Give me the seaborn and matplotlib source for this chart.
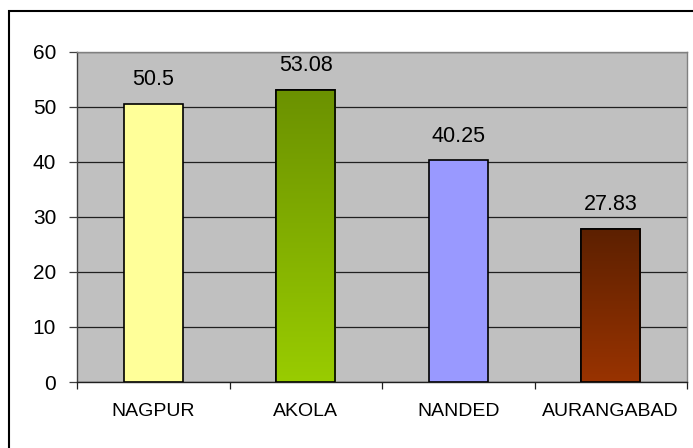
import numpy as np
import pandas as pd
import matplotlib
matplotlib.use("Agg")
import matplotlib.pyplot as plt
import seaborn as sns
from matplotlib.colors import LinearSegmentedColormap
from matplotlib.patches import Rectangle

districts = ["NAGPUR", "AKOLA", "NANDED", "AURANGABAD"]
values = [50.5, 53.08, 40.25, 27.83]
bar_colors = ["#ffff99", "#79a300", "#9999ff", "#7a2a00"]
# top/bottom shades for the bars filled with a vertical gradient
gradients = {1: ("#6b9100", "#99cc00"), 3: ("#5c2000", "#993300")}
y_ticks = [0, 10, 20, 30, 40, 50, 60]

sns.set_theme(style="white")
plt.rcParams["font.family"] = ["Liberation Sans", "DejaVu Sans"]

fig = plt.figure(figsize=(6.93, 4.48), dpi=100)
ax = fig.add_axes([77 / 693, 1 - 382 / 448, 610 / 693, 330.5 / 448])

df = pd.DataFrame({"district": districts, "value": values})
sns.barplot(data=df, x="district", y="value", hue="district", palette=bar_colors,
            saturation=1, legend=False, width=0.39, edgecolor="black",
            linewidth=1.2, ax=ax, zorder=3)

ax.set_facecolor("#c0c0c0")
ax.set_xlim(-0.5, len(districts) - 0.5)
ax.set_ylim(0, 60)
ax.set_yticks(y_ticks)
ax.yaxis.grid(True, color="#202020", linewidth=0.9)
ax.set_axisbelow(True)
ax.set_xlabel("")
ax.set_ylabel("")

for name, sp in ax.spines.items():
    sp.set_visible(True)
    sp.set_color("#808080")
    sp.set_linewidth(1.0)
ax.spines["left"].set_color("#404040")
ax.spines["bottom"].set_color("#202020")

ax.tick_params(axis="y", which="major", left=True, length=6, width=0.9,
               color="#404040", pad=9, labelsize=15, labelcolor="black")
ax.tick_params(axis="x", which="major", bottom=False, length=0, pad=15,
               labelsize=14, labelcolor="black")
ax.set_xticks(np.arange(-0.5, len(districts), 1.0), minor=True)
ax.tick_params(axis="x", which="minor", bottom=True, length=5, width=0.9,
               color="#202020")

# vertical gradient fills clipped to the bar outlines
for i, patch in enumerate(ax.patches):
    if i in gradients:
        top, bottom = gradients[i]
        cmap = LinearSegmentedColormap.from_list("g%d" % i, [bottom, top])
        x0, y0 = patch.get_x(), patch.get_y()
        w, h = patch.get_width(), patch.get_height()
        grad = np.linspace(0, 1, 256).reshape(-1, 1)
        im = ax.imshow(grad, cmap=cmap, aspect="auto", origin="lower",
                       extent=(x0, x0 + w, y0, y0 + h), zorder=3.5)
        im.set_clip_path(patch)
        edge = Rectangle((x0, y0), w, h, fill=False, edgecolor="black",
                         linewidth=1.2, zorder=4)
        ax.add_patch(edge)

ax.set_xlim(-0.5, len(districts) - 0.5)
ax.set_ylim(0, 60)

for i, v in enumerate(values):
    ax.annotate(f"{v:g}", (i, v), xytext=(0, 13.5), textcoords="offset points",
                ha="center", va="baseline", fontsize=15.5, color="black")

# outer chart frame
fig.patches.append(Rectangle((9 / 693, -0.1), 1.2, 1.1 - 11 / 448,
                             transform=fig.transFigure, fill=False,
                             edgecolor="black", linewidth=1.5))

fig.savefig("out.png", dpi=100, facecolor="white")
